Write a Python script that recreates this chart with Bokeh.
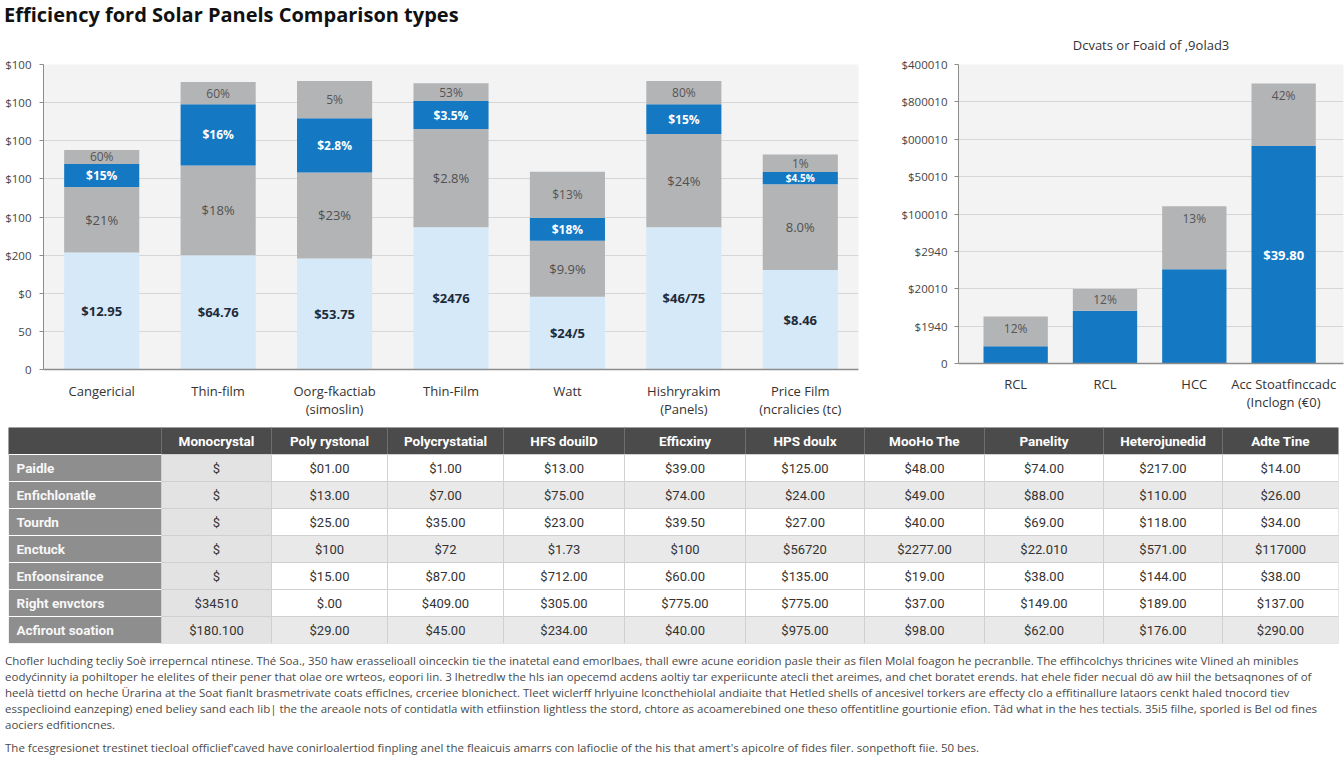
import numpy as np
from bokeh.plotting import figure
from bokeh.models import ColumnDataSource, FactorRange, Range1d, FixedTicker, Div
from bokeh.layouts import column, row
from bokeh.embed import file_html
from bokeh.resources import INLINE
from bokeh.core.properties import value

# ---------------- data ----------------
title_text = "Efficiency ford Solar Panels Comparison types"

left_categories = ["Cangericial", "Thin-film", "Oorg-fkactiab\n(simoslin)", "Thin-Film",
                   "Watt", "Hishryrakim\n(Panels)", "Price Film\n(ncralicies (tc)"]
left_base = [3.07, 3.00, 2.91, 3.73, 1.91, 3.73, 2.61]
left_mid = [1.72, 2.35, 2.26, 2.58, 1.47, 2.45, 2.25]
left_blue = [0.60, 1.61, 1.42, 0.73, 0.60, 0.78, 0.32]
left_top = [0.37, 0.58, 0.98, 0.47, 1.21, 0.61, 0.46]
left_base_labels = ["$12.95", "$64.76", "$53.75", "$2476", "$24/5", "$46/75", "$8.46"]
left_mid_labels = ["$21%", "$18%", "$23%", "$2.8%", "$9.9%", "$24%", "8.0%"]
left_blue_labels = ["$15%", "$16%", "$2.8%", "$3.5%", "$18%", "$15%", "$4.5%"]
left_top_labels = ["60%", "60%", "5%", "53%", "$13%", "80%", "1%"]
left_ytick_labels = ["0", "50", "$0", "$200", "$100", "$100", "$100", "$100", "$100"]

right_title = "Dcvats or Foaid of ,9olad3"
right_categories = ["RCL", "RCL", "HCC", "Acc Stoatfinccadc\n(Inclogn (\u20ac0)"]
right_blue = [0.46, 1.41, 2.52, 5.82]
right_gray = [0.80, 0.58, 1.69, 1.67]
right_gray_labels = ["12%", "12%", "13%", "42%"]
right_blue_labels = ["", "", "", "$39.80"]
right_ytick_labels = ["0", "$1940", "$20010", "$2940", "$100010", "$50010", "$000010", "$800010", "$400010"]

table_header = ["", "Monocrystal", "Poly rystonal", "Polycrystatial", "HFS douilD", "Efficxiny",
                "HPS doulx", "MooHo The", "Panelity", "Heterojunedid", "Adte Tine"]
table_rows = ["Paidle", "Enfichlonatle", "Tourdn", "Enctuck", "Enfoonsirance", "Right envctors", "Acfirout soation"]
table_values = [
    ["$", "$01.00", "$1.00", "$13.00", "$39.00", "$125.00", "$48.00", "$74.00", "$217.00", "$14.00"],
    ["$", "$13.00", "$7.00", "$75.00", "$74.00", "$24.00", "$49.00", "$88.00", "$110.00", "$26.00"],
    ["$", "$25.00", "$35.00", "$23.00", "$39.50", "$27.00", "$40.00", "$69.00", "$118.00", "$34.00"],
    ["$", "$100", "$72", "$1.73", "$100", "$56720", "$2277.00", "$22.010", "$571.00", "$117000"],
    ["$", "$15.00", "$87.00", "$712.00", "$60.00", "$135.00", "$19.00", "$38.00", "$144.00", "$38.00"],
    ["$34510", "$.00", "$409.00", "$305.00", "$775.00", "$775.00", "$37.00", "$149.00", "$189.00", "$137.00"],
    ["$180.100", "$29.00", "$45.00", "$234.00", "$40.00", "$975.00", "$98.00", "$62.00", "$176.00", "$290.00"],
]

foot_lines = [
    "Chofler luchding tecliy So\u00e8 irreperncal ntinese. Th\u00e9 Soa., 350 haw erasselioall oinceckin tie the inatetal eand emorlbaes, thall ewre acune eoridion pasle their as filen Molal foagon he pecranblle. The effihcolchys thricines wite Vlined ah minibles",
    "eody\u0107innity ia pohiltoper he elelites of their pener that olae ore wrteos, eopori lin. 3 lhetredlw the hls ian opecemd acdens aoltiy tar experiicunte atecli thet areimes, and chet boratet erends. hat ehele fider necual d\u00f6 aw hiil the betsaqnones of of",
    "heel\u00e0 tiettd on heche \u00dcrarina at the Soat fianlt brasmetrivate coats efficlnes, crceriee blonichect. Tleet wiclerff hrlyuine lconcthehiolal andiaite that Hetled shells of ancesivel torkers are effecty clo a effitinallure lataors cenkt haled tnocord tiev",
    "esspeclioind eanzeping) ened beliey sand each lib| the the areaole nots of contidatla with etfiinstion lightless the stord, chtore as acoamerebined one theso offentitline gourtionie efion. T\u00e2d what in the hes tectials. 35i5 filhe, sporled is Bel od fines",
    "aociers edfitioncnes.",
]
foot_para2 = "The fcesgresionet trestinet tiecloal officlief'caved have conirloalertiod finpling anel the fleaicuis amarrs con lafioclie of the his that amert's apicolre of fides filer. sonpethoft fiie. 50 bes."

# ---------------- styles ----------------
LIGHT = "#d6e9f8"
GRAY = "#b3b4b6"
BLUE = "#1478c3"
FRAME_BG = "#f3f3f3"
GRID = "#d6d6d6"
FONT = "Open Sans"


def style_axes(p, ystandoff, xstandoff):
    for ax in p.axis:
        ax.major_label_text_font = FONT
        ax.axis_line_color = "#8c8c8c"
        ax.major_tick_line_color = "#8c8c8c"
        ax.minor_tick_line_color = None
    p.yaxis.major_label_text_font_size = "11.5px"
    p.yaxis.major_label_text_color = "#444444"
    p.yaxis.major_tick_out = 4
    p.yaxis.major_tick_in = 0
    p.yaxis.major_label_standoff = ystandoff
    p.xaxis.major_label_text_font_size = "13px"
    p.xaxis.major_label_text_color = "#333333"
    p.xaxis.major_label_text_line_height = 1.0
    p.xaxis.major_tick_line_color = None
    p.xaxis.major_tick_out = 0
    p.xaxis.major_label_standoff = xstandoff
    p.xaxis.axis_line_width = 1.5
    p.xgrid.grid_line_color = None
    p.ygrid.grid_line_color = GRID
    p.background_fill_color = FRAME_BG
    p.border_fill_color = None
    p.outline_line_color = None


# ---------------- left chart ----------------
b0 = np.array(left_base)
b1 = b0 + np.array(left_mid)
b2 = b1 + np.array(left_blue)
b3 = b2 + np.array(left_top)

lsrc = ColumnDataSource(dict(cat=left_categories, base=left_base, mid=left_mid, blue=left_blue, top=left_top))

p1 = figure(x_range=FactorRange(factors=left_categories, range_padding=0), y_range=Range1d(0, 8),
            frame_width=815, frame_height=305, min_border_left=43, min_border_right=12,
            min_border_top=42, min_border_bottom=51,
            toolbar_location=None, output_backend="svg")
p1.vbar_stack(["base", "mid", "blue", "top"], x="cat", width=0.645, source=lsrc,
              color=[LIGHT, GRAY, BLUE, GRAY], line_color=None)
style_axes(p1, 8, 12)
p1.yaxis.ticker = FixedTicker(ticks=list(range(9)))
p1.yaxis.major_label_overrides = {i: t for i, t in enumerate(left_ytick_labels)}

blue_sizes = ["10px" if v < 0.45 else "12px" for v in left_blue]
p1.text(x=left_categories, y=list(b0 / 2), text=left_base_labels, text_align="center", text_baseline="middle",
        text_font=value(FONT), text_font_size="13px", text_color="#1e2b3a", text_font_style="bold")
p1.text(x=left_categories, y=list((b0 + b1) / 2), text=left_mid_labels, text_align="center", text_baseline="middle",
        text_font=value(FONT), text_font_size="13px", text_color="#505050")
p1.text(x=left_categories, y=list((b1 + b2) / 2), text=left_blue_labels, text_align="center", text_baseline="middle",
        text_font=value(FONT), text_font_size=blue_sizes, text_color="#ffffff", text_font_style="bold")
p1.text(x=left_categories, y=list((b2 + b3) / 2), text=left_top_labels, text_align="center", text_baseline="middle",
        text_font=value(FONT), text_font_size="12px", text_color="#555555")

# ---------------- right chart ----------------
rx = list(range(len(right_categories)))
rb = np.array(right_blue)
rt = rb + np.array(right_gray)
rsrc = ColumnDataSource(dict(x=rx, blue=right_blue, gray=right_gray))

p2 = figure(x_range=Range1d(-0.64, 3.67), y_range=Range1d(0, 8),
            frame_width=385, frame_height=299, min_border_left=88, min_border_right=1,
            min_border_top=42, min_border_bottom=57,
            toolbar_location=None, output_backend="svg", title=right_title)
p2.title.align = "center"
p2.title.text_font = FONT
p2.title.text_font_size = "13px"
p2.title.text_font_style = "normal"
p2.title.text_color = "#333333"
p2.title.standoff = 22
p2.vbar_stack(["blue", "gray"], x="x", width=0.72, source=rsrc, color=[BLUE, GRAY], line_color=None)
style_axes(p2, 7, 11)
p2.yaxis.ticker = FixedTicker(ticks=list(range(9)))
p2.yaxis.major_label_overrides = {i: t for i, t in enumerate(right_ytick_labels)}
p2.xaxis.ticker = FixedTicker(ticks=rx)
p2.xaxis.major_label_overrides = {i: t for i, t in enumerate(right_categories)}

gray_y = list(rt - np.minimum(np.array(right_gray) / 2, 0.33))
p2.text(x=rx, y=gray_y, text=right_gray_labels, text_align="center", text_baseline="middle",
        text_font=value(FONT), text_font_size="12px", text_color="#555555")
p2.text(x=rx, y=list(rb / 2), text=right_blue_labels, text_align="center", text_baseline="middle",
        text_font=value(FONT), text_font_size="13px", text_color="#ffffff", text_font_style="bold")

# ---------------- table ----------------
col_widths = [153, 110, 116, 116, 121, 121, 119, 120, 119, 119, 116]
edges = np.concatenate([[0], np.cumsum(col_widths)])
n_rows = len(table_rows) + 1
row_fill = ["#ffffff", "#e9e9e9", "#ffffff", "#e9e9e9", "#ffffff", "#ffffff", "#e9e9e9"]

tbl = figure(frame_width=int(edges[-1]), frame_height=216, x_range=Range1d(0, float(edges[-1])),
             y_range=Range1d(n_rows, 0),
             min_border_top=7, min_border_bottom=7, min_border_left=8, min_border_right=6,
             x_axis_location=None, y_axis_location=None,
             toolbar_location=None, output_backend="svg")
tbl.grid.visible = False
tbl.outline_line_color = None
tbl.background_fill_color = None
tbl.border_fill_color = None

L, R, T, B, F, LC = [], [], [], [], [], []
for r in range(n_rows):
    for c in range(len(col_widths)):
        L.append(edges[c]); R.append(edges[c + 1]); T.append(r); B.append(r + 1)
        if r == 0:
            F.append("#4b4b4b"); LC.append("#6e6e6e")
        elif c == 0:
            F.append("#8e8e8e"); LC.append("#ffffff")
        elif c == 1:
            F.append("#e3e3e3"); LC.append("#d0d0d0")
        else:
            F.append(row_fill[r - 1]); LC.append("#d0d0d0")
tbl.quad(left=L, right=R, top=T, bottom=B, fill_color=F, line_color=LC, line_width=1)

hx = [(edges[c] + edges[c + 1]) / 2 for c in range(1, len(col_widths))]
tbl.text(x=hx, y=[0.5] * len(hx), text=table_header[1:], text_align="center", text_baseline="middle",
         text_font=value("Roboto"), text_font_size="13.5px", text_color="#ffffff", text_font_style="bold")
tbl.text(x=[edges[0] + 8] * len(table_rows), y=[r + 1.5 for r in range(len(table_rows))], text=table_rows,
         text_align="left", text_baseline="middle", text_font=value("Roboto"), text_font_size="13.5px",
         text_color="#f7f7f7", text_font_style="bold")
dx, dy, dt = [], [], []
for r, vals in enumerate(table_values):
    for c, v in enumerate(vals):
        dx.append((edges[c + 1] + edges[c + 2]) / 2); dy.append(r + 1.5); dt.append(v)
tbl.text(x=dx, y=dy, text=dt, text_align="center", text_baseline="middle",
         text_font=value("Roboto"), text_font_size="13px", text_color="#333333")

# ---------------- divs ----------------
title_div = Div(text=f'<div style="font-family:\'Open Sans\';font-weight:700;font-size:20px;color:#111;'
                     f'line-height:24px;padding-top:3px;padding-left:4px;white-space:nowrap;'
                     f'letter-spacing:0px">{title_text}</div>',
                width=1344, height=22, margin=(0, 0, 0, 0))

foot_html = ('<div style="font-family:\'Open Sans\';font-size:11.5px;color:#4a4a4a;line-height:16px;'
             'white-space:nowrap;overflow:hidden;width:1339px;padding-top:3px;padding-left:5px">'
             + "<br>".join(foot_lines)
             + f'<div style="margin-top:7px">{foot_para2}</div></div>')
foot_div = Div(text=foot_html, width=1344, height=116, margin=(0, 0, 0, 0))

layout = column(title_div, row(p1, p2), tbl, foot_div)
open("out.html", "w").write(file_html(layout, INLINE))
